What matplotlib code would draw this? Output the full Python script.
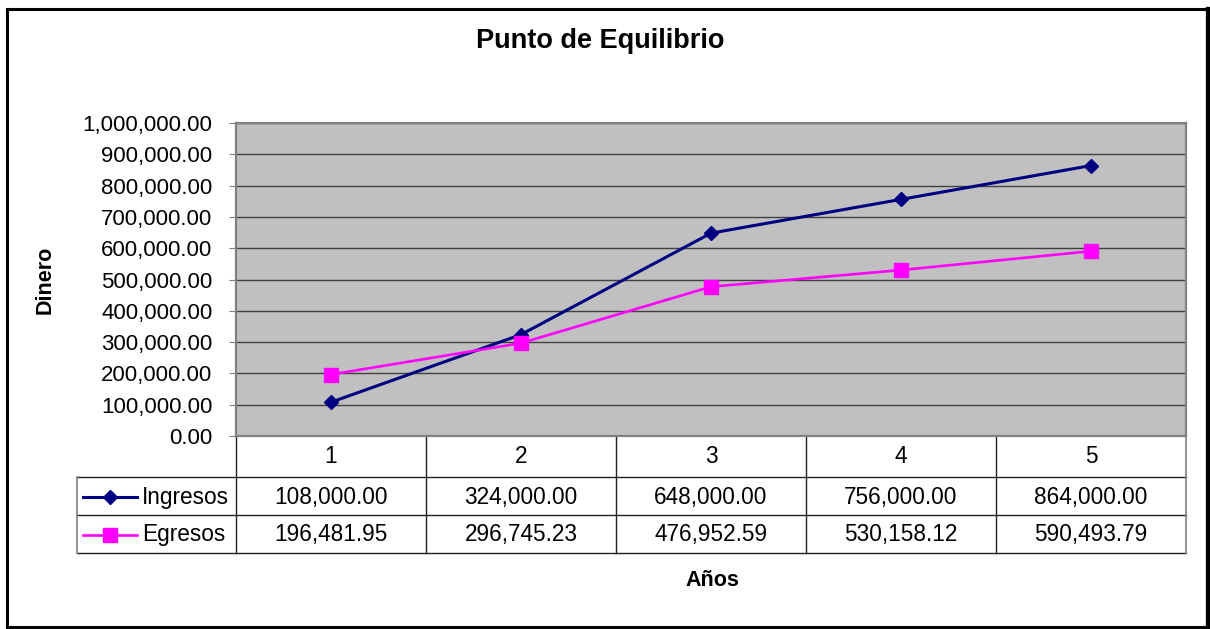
import matplotlib
matplotlib.use("Agg")
import matplotlib.pyplot as plt
import matplotlib.transforms as mtransforms
from matplotlib.lines import Line2D
from matplotlib.ticker import FuncFormatter, MultipleLocator

plt.rcParams['font.family'] = ['Liberation Sans', 'DejaVu Sans']

# data
years = [1, 2, 3, 4, 5]
ingresos = [108000.00, 324000.00, 648000.00, 756000.00, 864000.00]
egresos = [196481.95, 296745.23, 476952.59, 530158.12, 590493.79]
series_names = ["Ingresos", "Egresos"]

fig = plt.figure(figsize=(12.1, 6.29), dpi=100)
ax = fig.add_axes([236/1210, 1 - 436/629, 950/1210, 313/629])
ax.set_facecolor("#C0C0C0")

ax.plot(years, ingresos, color="#000080", lw=2.2, marker="D", ms=7.5,
        mec="#000080", mfc="#000080", zorder=3, clip_on=False)
ax.plot(years, egresos, color="#FF00FF", lw=1.9, marker="s", ms=10,
        mec="#FF00FF", mfc="#FF00FF", zorder=3, clip_on=False)

ax.set_xlim(0.5, 5.5)
ax.set_ylim(0, 1000000)
ax.yaxis.set_major_locator(MultipleLocator(100000))
ax.yaxis.set_major_formatter(FuncFormatter(lambda v, p: "{:,.2f}".format(v)))
ax.grid(axis="y", color="#404040", lw=1)
ax.set_axisbelow(True)
ax.set_xticks([])
ax.tick_params(axis="y", labelsize=16, length=5, color="#808080", pad=12)
for s in ax.spines.values():
    s.set_color("#808080")
    s.set_linewidth(1.6)

# data table below the plot
blend = mtransforms.blended_transform_factory(ax.transData, ax.transAxes)
row_y = [-0.067, -0.195, -0.316]
hlines = [-0.131, -0.2524, -0.3738]
leg_left = -0.1674

for i, yr in enumerate(years):
    ax.text(yr, row_y[0], str(yr), transform=blend, ha="center", va="center", fontsize=16.3)
    ax.text(yr, row_y[1], "{:,.2f}".format(ingresos[i]), transform=blend,
            ha="center", va="center", fontsize=16.3)
    ax.text(yr, row_y[2], "{:,.2f}".format(egresos[i]), transform=blend,
            ha="center", va="center", fontsize=16.3)

for y in hlines:
    ax.add_line(Line2D([leg_left, 1], [y, y], transform=ax.transAxes,
                       color="#202020", lw=1, clip_on=False))
for xb in [0.5, 1.5, 2.5, 3.5, 4.5]:
    ax.add_line(Line2D([xb, xb], [0, hlines[-1]], transform=blend,
                       color="#202020", lw=1, clip_on=False))
ax.add_line(Line2D([5.5, 5.5], [0, hlines[-1]], transform=blend,
                   color="#808080", lw=1.2, clip_on=False))
ax.add_line(Line2D([leg_left, leg_left], [hlines[0], hlines[-1]], transform=ax.transAxes,
                   color="#808080", lw=1.2, clip_on=False))

# legend keys inside table
styles = [("#000080", "D", 7, 2.2), ("#FF00FF", "s", 9.5, 1.9)]
for k, name in enumerate(series_names):
    c, m, ms, lw = styles[k]
    y = row_y[k + 1]
    ax.add_line(Line2D([-0.161, -0.104], [y, y], transform=ax.transAxes,
                       color=c, lw=lw, clip_on=False))
    ax.add_line(Line2D([-0.1326], [y], transform=ax.transAxes, marker=m, ms=ms,
                       color=c, mec=c, mfc=c, clip_on=False))
    ax.text(-0.099, y, name, transform=ax.transAxes, ha="left", va="center", fontsize=16.3)

fig.text(600/1210, 1 - 41/629, "Punto de Equilibrio", ha="center", va="center",
         fontsize=19.5, fontweight="bold")
fig.text(45/1210, 1 - 280/629, "Dinero", ha="center", va="center", rotation=90,
         fontsize=15.5, fontweight="bold")
fig.text(712/1210, 1 - 581/629, "Años", ha="center", va="center",
         fontsize=15.5, fontweight="bold")

# outer chart border
W, H = 1210, 629
def fl(x0, y0, x1, y1, lw):
    fig.add_artist(Line2D([x0/W, x1/W], [1 - y0/H, 1 - y1/H], transform=fig.transFigure,
                          color="black", lw=lw))
fl(6.5, 8.5, 1207, 8.5, 2.2)
fl(6.5, 8.5, 6.5, 627, 2.2)
fl(6.5, 627, 1207, 627, 2.2)
fl(1207.5, 8.5, 1207.5, 628, 3.8)

fig.savefig("out.png", dpi=100)
